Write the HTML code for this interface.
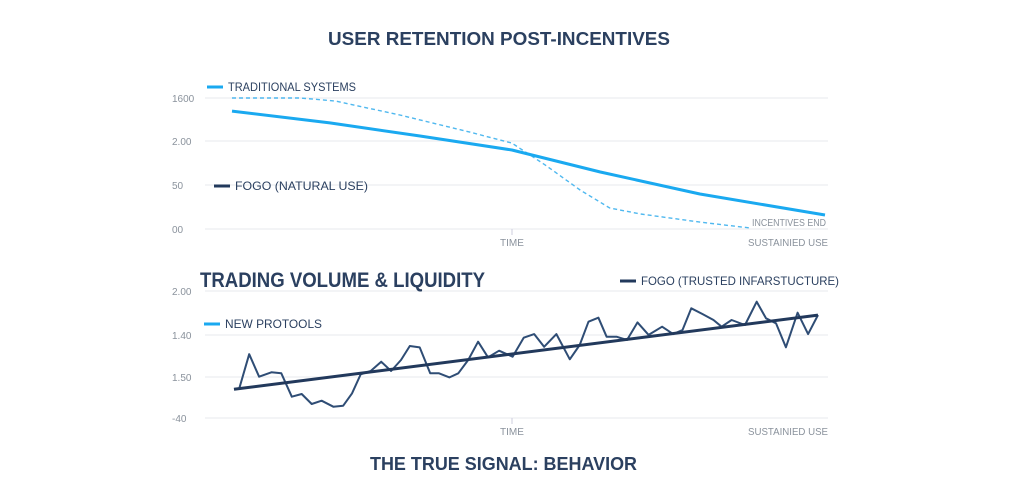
<!DOCTYPE html>
<html><head><meta charset="utf-8"><style>
html,body{margin:0;padding:0;background:#fff;}
svg{display:block;font-family:"Liberation Sans Narrow","Liberation Sans",sans-serif;}
.t{fill:#2b4060;}
.ax{fill:#8a929c;font-size:10px;}
</style></head><body>
<svg id="chart" width="1024" height="486" viewBox="0 0 1024 486">
<text class="t" x="328" y="45" font-size="18" font-weight="bold" textLength="342" lengthAdjust="spacingAndGlyphs">USER RETENTION POST-INCENTIVES</text>
<g id="topG"></g>
<g id="botG"></g>
<text class="t" x="370" y="470" font-size="18" font-weight="bold" textLength="267" lengthAdjust="spacingAndGlyphs">THE TRUE SIGNAL: BEHAVIOR</text>
</svg>
<script>
// Top chart data
const topTicks = ["1600","2.00","50","00"];
const tradT = [0,16.5,31.7,47.2,62.1,78.9,100];
const tradV = [90,81,71,60.3,43.5,26.7,10.7];
const incT = [0,11.5,17.4,28.3,40.1,47.2,52.8,58.7,63.7,68.8,78.9,87.4];
const incV = [100,100,97.7,87,74,65.6,48.9,29.8,16,11.5,5.3,0.8];
// Bottom chart data
const botTicks = ["2.00","1.40","1.50","-40"];
const volT = [0,0.9,2.6,4.3,6.4,8.1,9.9,11.6,13.3,15,17,18.7,20.2,21.7,23.4,25.2,26.9,28.6,30.1,31.8,33.6,35.1,36.9,38.4,40.1,41.8,43.5,45.4,47.7,49.6,51.4,53.1,55.2,57.5,59.2,60.7,62.4,63.8,65.5,67.3,69.1,71,73.3,75.2,76.8,78.3,80.2,82.1,83.5,85.2,87.5,89.5,91.1,92.8,94.5,96.5,98.3,100];
const volV = [22.6,23.4,50.2,32.5,36,35.2,16.8,18.9,11,13.6,8.9,9.7,19.4,34.4,37,44.3,37,45.7,56.7,55.6,35.2,35.2,32,35.2,45.7,60.1,47.8,53,48.3,63.2,66.1,56.1,66.1,46.2,57.5,75.8,79,64,64,61.4,75.3,65.4,71.9,66.1,69.3,86.4,81.9,77.2,71.9,77.2,73.2,91.6,78.5,74.6,55.7,82.9,66.1,81.1];
const trendT = [0,100];
const trendV = [22.6,81];

const NS="http://www.w3.org/2000/svg";
function mk(parent,tag,attrs){const e=document.createElementNS(NS,tag);for(const k in attrs)e.setAttribute(k,attrs[k]);parent.appendChild(e);return e;}
function path(ts,vs,xs,ys){return ts.map((t,i)=>(i?'L':'M')+xs(t).toFixed(1)+','+ys(vs[i]).toFixed(1)).join('');}

function panel(g,gridYs,ticks,ax){
  gridYs.forEach((y,i)=>{
    const l=mk(g,'line',{x1:205,x2:828,y1:y,y2:y,stroke:'#eceef1','stroke-width':1.2});
    
    
    const t=mk(g,'text',{x:172,y:y+4,class:'ax'});t.textContent=ticks[i];
    
    
  });
  const tk=mk(g,'line',{x1:512,x2:512,y1:ax,y2:ax+6,stroke:'#ccd'});
  
  
  const tm=mk(g,'text',{x:512,y:ax+17,class:'ax','text-anchor':'middle'});tm.textContent='TIME';
  
  
  const su=mk(g,'text',{x:748,y:ax+17,class:'ax',textLength:80,lengthAdjust:'spacingAndGlyphs'});su.textContent='SUSTAINIED USE';
  
  
}
function legend(g,x,y,color,label,name,w){
  const l=mk(g,'line',{x1:x,x2:x+16,y1:y,y2:y,stroke:color,'stroke-width':3});
  
  
  const t=mk(g,'text',{x:x+21,y:y+4,class:'t','font-size':12,textLength:w,lengthAdjust:'spacingAndGlyphs'});t.textContent=label;
  
  
}
// top
const topG=document.getElementById('topG');
panel(topG,[98,141,185,229],topTicks,229);
const xT=t=>232+t/100*593, yT=v=>229-v/100*131;
const dash=mk(topG,'path',{d:path(incT,incV,xT,yT),fill:'none',stroke:'#4fb8ef','stroke-width':1.4,'stroke-dasharray':'4 3'});


const trad=mk(topG,'path',{d:path(tradT,tradV,xT,yT),fill:'none',stroke:'#1aa9f0','stroke-width':3,'stroke-linejoin':'round'});


legend(topG,207,87,'#1aa9f0','TRADITIONAL SYSTEMS','legend-traditional-systems',128);
legend(topG,214,186,'#22395c','FOGO (NATURAL USE)','legend-fogo-natural-use',133);
const ie=mk(topG,'text',{x:752,y:226,class:'ax','font-size':10,textLength:74,lengthAdjust:'spacingAndGlyphs'});ie.textContent='INCENTIVES END';


// bottom
const botG=document.getElementById('botG');
panel(botG,[291,335,377,418],botTicks,418);
const xB=t=>234+t/100*584, yB=v=>418-v/100*127;
const bt=mk(botG,'text',{x:200,y:287,class:'t','font-size':21,'font-weight':'bold',textLength:285,lengthAdjust:'spacingAndGlyphs'});bt.textContent='TRADING VOLUME & LIQUIDITY';


legend(botG,620,281,'#22395c','FOGO (TRUSTED INFARSTUCTURE)','legend-fogo-trusted',198);
legend(botG,204,324,'#1aa9f0','NEW PROTOOLS','legend-new-protocols',97);
const vol=mk(botG,'path',{d:path(volT,volV,xB,yB),fill:'none',stroke:'#2f4d75','stroke-width':2,'stroke-linejoin':'round'});


const tr=mk(botG,'path',{d:path(trendT,trendV,xB,yB),fill:'none',stroke:'#22395c','stroke-width':3});


</script>
</body></html>
